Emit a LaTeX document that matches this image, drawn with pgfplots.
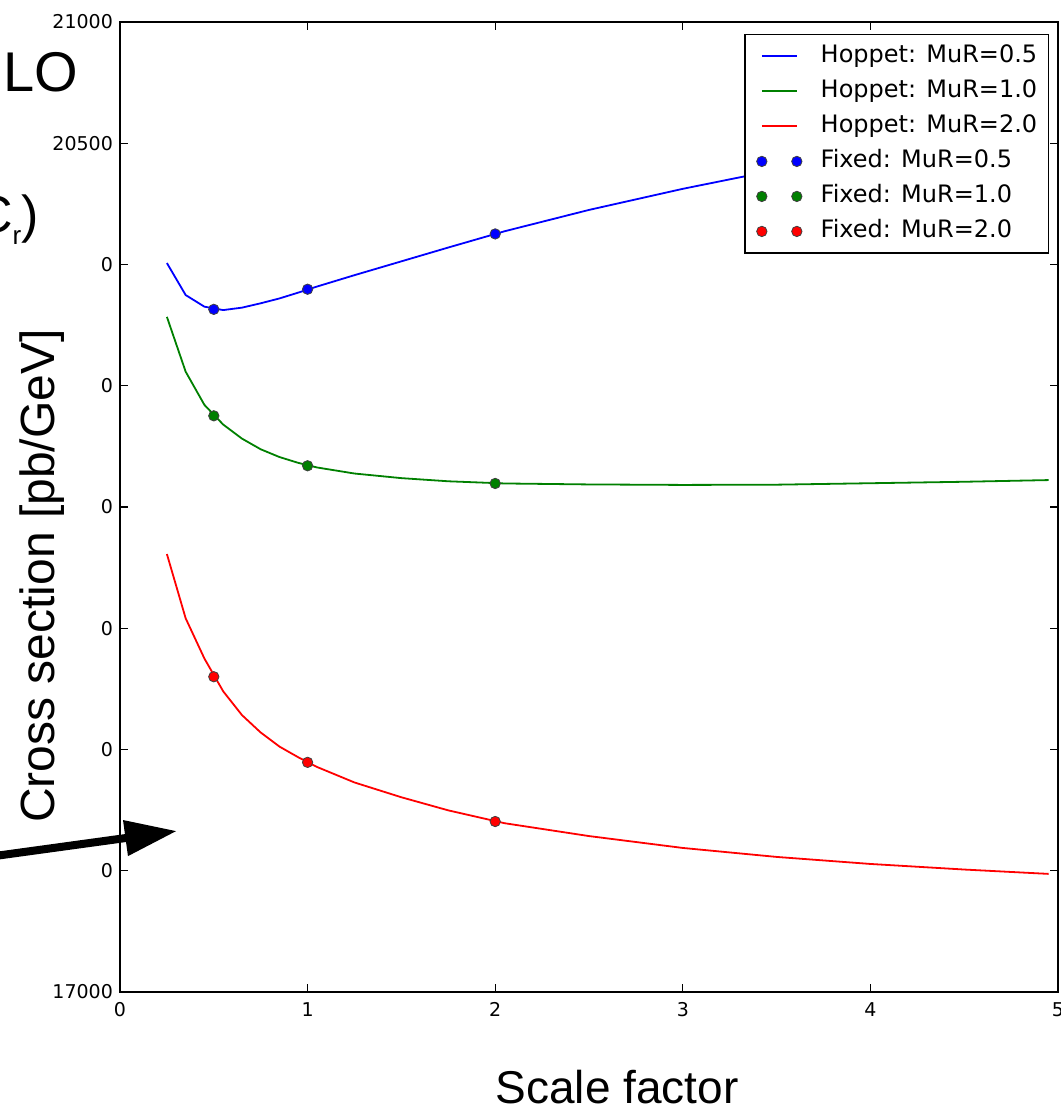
\documentclass[border=0pt]{standalone}
\usepackage{fontspec}
\setmainfont{Liberation Sans}
\newfontfamily\dejavu{DejaVu Sans}
\usepackage{pgfplots}
\pgfplotsset{compat=1.18}
\usetikzlibrary{arrows.meta}

% pixel of the reference -> picture coordinates (1px = 0.5pt, origin at axis corner)
\newcommand{\px}[2]{({((#1)-120)*0.5pt},{(992-(#2))*0.5pt})}

\definecolor{mplblue}{RGB}{0,0,255}
\definecolor{mplgreen}{RGB}{0,128,0}
\definecolor{mplred}{RGB}{255,0,0}

\begin{document}
\begin{tikzpicture}
\begin{axis}[
    at={(0,0)}, anchor=south west,
    scale only axis,
    width=469pt, height=485pt,
    xmin=0, xmax=5, ymin=17000, ymax=21000,
    xtick={0,1,2,3,4,5},
    xticklabels={0,1,2,3,4,5},
    ytick={17000,17500,18000,18500,19000,19500,20000,20500,21000},
    yticklabels={17000,0,0,0,0,0,0,20500,21000},
    tick align=inside, tick pos=both,
    major tick length=4pt,
    tick style={black, line width=0.6pt},
    axis line style={line width=0.8pt},
    tick label style={font=\dejavu\fontsize{9.5}{11}\selectfont},
    xticklabel style={yshift=-1.6pt},
    legend style={at={(1,1)}, anchor=north east, xshift=-4.5pt, yshift=-6pt,
        draw=black, line width=0.75pt,
        font=\dejavu\fontsize{12}{14}\selectfont,
        inner xsep=5.5pt, inner ysep=2.1pt, row sep=0pt,
        nodes={inner xsep=0pt, inner ysep=0pt, text height=11.8pt, text depth=5.7pt},
        cells={anchor=west}},
    legend image code/.code={
        \path (-2.5pt,0pt) (29pt,0pt);
        \draw[#1, line width=1pt] (0pt,0pt) -- (17.5pt,0pt);
    },
]
\addplot[mplblue, line width=0.9pt] coordinates {
    (0.25,20006) (0.35,19874) (0.45,19826) (0.55,19812) (0.65,19822)
    (0.75,19840) (0.85,19860) (0.95,19884) (1.05,19909) (1.25,19956)
    (1.5,20013) (1.75,20070) (2.05,20137) (2.5,20225) (3,20312)
    (3.5,20390) (4,20455) (4.5,20510) (4.95,20559)};
\addlegendentry{Hoppet: MuR=0.5}
\addplot[mplgreen, line width=0.9pt] coordinates {
    (0.25,19784) (0.35,19558) (0.45,19421) (0.55,19340) (0.65,19282)
    (0.75,19238) (0.85,19206) (0.95,19182) (1.05,19163) (1.25,19138)
    (1.5,19119) (1.75,19106) (2.05,19097) (2.5,19093) (3,19091)
    (3.5,19092) (4,19098) (4.5,19104) (4.95,19111)};
\addlegendentry{Hoppet: MuR=1.0}
\addplot[mplred, line width=0.9pt] coordinates {
    (0.25,18806) (0.35,18541) (0.45,18375) (0.55,18240) (0.65,18142)
    (0.75,18070) (0.85,18012) (0.95,17968) (1.05,17928) (1.25,17864)
    (1.5,17803) (1.75,17749) (2.05,17696) (2.5,17643) (3,17594)
    (3.5,17557) (4,17528) (4.5,17505) (4.95,17487)};
\addlegendentry{Hoppet: MuR=2.0}

\pgfplotsset{fixedlegend/.style={legend image code/.code={
        \path (-2.5pt,0pt) (29pt,0pt);
        \draw[##1, only marks] plot coordinates {(0pt,0pt) (17.5pt,0pt)};
    }}}
\addplot[only marks, mark=*, mark size=2.6pt, fixedlegend,
    mark options={draw=black!75, line width=0.4pt, fill=mplblue}]
    coordinates {(0.5,19815) (1,19898) (2,20126)};
\addlegendentry{Fixed: MuR=0.5}
\addplot[only marks, mark=*, mark size=2.6pt, fixedlegend,
    mark options={draw=black!75, line width=0.4pt, fill=mplgreen}]
    coordinates {(0.5,19376) (1,19170) (2,19097)};
\addlegendentry{Fixed: MuR=1.0}
\addplot[only marks, mark=*, mark size=2.6pt, fixedlegend,
    mark options={draw=black!75, line width=0.4pt, fill=mplred}]
    coordinates {(0.5,18300) (1,17947) (2,17703)};
\addlegendentry{Fixed: MuR=2.0}
\end{axis}

% overlaid slide text
\node[anchor=base west, inner sep=0pt, font=\fontsize{28}{30}\selectfont] at \px{3}{92} {LO};
\node[anchor=base east, inner sep=0pt, font=\fontsize{26}{28}\selectfont] at \px{39}{233}
    {C\raisebox{-6pt}{\fontsize{13}{13}\selectfont r})};
\node[anchor=base, rotate=90, inner sep=0pt, font=\fontsize{24}{26}\selectfont] at \px{55}{576}
    {Cross section [pb/GeV]};
\node[anchor=base, inner sep=0pt, font=\fontsize{23}{25}\selectfont] at \px{617}{1103}
    {Scale factor};
\draw[line width=4pt, -{Triangle[length=26pt,width=17pt]}] \px{-5}{856} -- \px{177}{831};

\pgfresetboundingbox
\path[use as bounding box] \px{0}{0} rectangle \px{1060}{1106};
\end{tikzpicture}
\end{document}
